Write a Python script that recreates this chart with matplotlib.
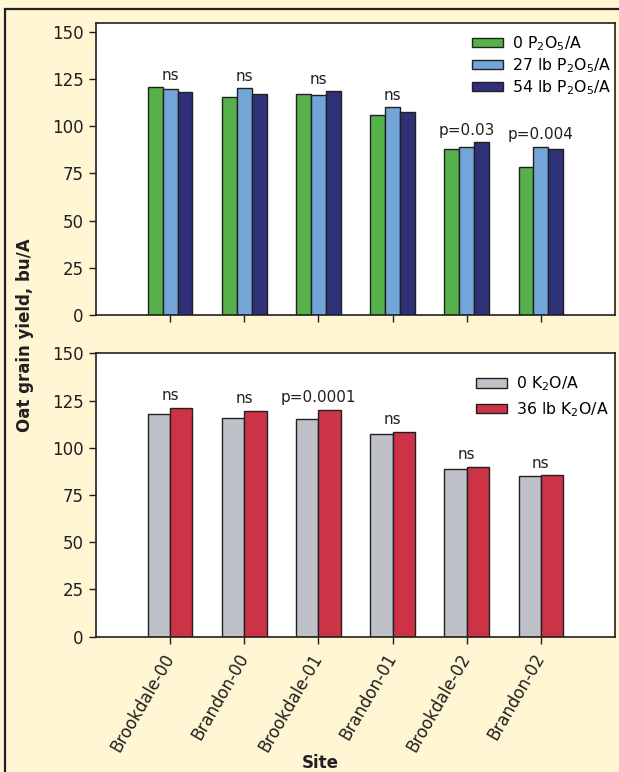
import matplotlib
matplotlib.use("Agg")
import matplotlib.pyplot as plt
from matplotlib.patches import Rectangle

# ---------- datos ----------
sitios = ["Brookdale-00", "Brandon-00", "Brookdale-01", "Brandon-01", "Brookdale-02", "Brandon-02"]

p_0 = [120.5, 115.5, 117.0, 106.0, 88.0, 78.5]
p_27 = [119.5, 120.0, 116.5, 110.0, 89.0, 89.0]
p_54 = [118.0, 117.0, 118.5, 107.5, 91.5, 88.0]
p_sig = ["ns", "ns", "ns", "ns", "p=0.03", "p=0.004"]

k_0 = [118.0, 116.0, 115.0, 107.5, 89.0, 85.0]
k_36 = [121.0, 119.5, 120.0, 108.5, 90.0, 85.5]
k_sig = ["ns", "ns", "p=0.0001", "ns", "ns", "ns"]

# ---------- estilo ----------
FONDO = "#fff6d4"
OSCURO = "#231f20"
VERDE, CELESTE, AZUL = "#57b14b", "#72a5d8", "#2f3178"
GRIS, ROJO = "#bec2c8", "#cc3346"

plt.rcParams["font.family"] = ["DejaVu Sans"]
plt.rcParams["mathtext.default"] = "regular"

fig = plt.figure(figsize=(6.19, 7.72), dpi=100)
fig.patch.set_facecolor(FONDO)

# borde exterior de la figura (solo izquierda y arriba quedan dentro)
fig.patches.append(Rectangle((5 / 619, -0.02), 1.05, 1 - 9 / 772 + 0.02,
                             transform=fig.transFigure, fill=False,
                             edgecolor=OSCURO, lw=1.6))

ax1 = fig.add_axes([96 / 619, 1 - 315 / 772, 519 / 619, 292 / 772])
ax2 = fig.add_axes([96 / 619, 1 - 636.7 / 772, 519 / 619, 283.4 / 772])

x = list(range(len(sitios)))


def preparar(ax, ytop):
    ax.set_facecolor("white")
    ax.set_xlim(-1, 6)
    ax.set_ylim(0, ytop)
    ax.set_yticks([0, 25, 50, 75, 100, 125, 150])
    ax.set_xticks(x)
    for s in ax.spines.values():
        s.set_color(OSCURO)
        s.set_linewidth(1.2)
    ax.tick_params(direction="out", length=5, width=1, color=OSCURO,
                   labelsize=12, labelcolor=OSCURO, pad=4)


def anotar(ax, tops, textos):
    for i in x:
        ax.annotate(textos[i], xy=(i, tops[i]), xytext=(0, 5.5),
                    textcoords="offset points", ha="center", va="baseline",
                    fontsize=11, color=OSCURO)


# ---------- P ----------
w = 0.2
preparar(ax1, 154.6)
ax1.bar([i - w for i in x], p_0, w, color=VERDE, edgecolor=OSCURO, lw=1,
        label="0 P$_2$O$_5$/A")
ax1.bar(x, p_27, w, color=CELESTE, edgecolor=OSCURO, lw=1,
        label="27 lb P$_2$O$_5$/A")
ax1.bar([i + w for i in x], p_54, w, color=AZUL, edgecolor=OSCURO, lw=1,
        label="54 lb P$_2$O$_5$/A")
ax1.set_xticklabels([])
anotar(ax1, [max(a, b, c) for a, b, c in zip(p_0, p_27, p_54)], p_sig)
ax1.legend(loc="upper left", bbox_to_anchor=(0.724, 0.962), frameon=False,
           fontsize=11.3, handlelength=2.0, handleheight=0.5,
           handletextpad=0.55, labelspacing=0.22, borderpad=0, borderaxespad=0)

# ---------- K ----------
w2 = 0.3
preparar(ax2, 150)
ax2.bar([i - w2 / 2 for i in x], k_0, w2, color=GRIS, edgecolor=OSCURO, lw=1,
        label="0 K$_2$O/A")
ax2.bar([i + w2 / 2 for i in x], k_36, w2, color=ROJO, edgecolor=OSCURO, lw=1,
        label="36 lb K$_2$O/A")
ax2.set_xticklabels(sitios, rotation=60, ha="right", va="center",
                    rotation_mode="anchor", fontsize=12)
ax2.tick_params(axis="x", pad=8)
anotar(ax2, [max(a, b) for a, b in zip(k_0, k_36)], k_sig)
ax2.legend(loc="upper left", bbox_to_anchor=(0.732, 0.926), frameon=False,
           fontsize=11.3, handlelength=2.0, handleheight=0.6,
           handletextpad=0.55, labelspacing=0.45, borderpad=0, borderaxespad=0)

fig.text(25 / 619, 1 - 335 / 772, "Oat grain yield, bu/A", rotation=90,
         ha="center", va="center", fontsize=12, fontweight="bold", color=OSCURO)
fig.text(320 / 619, 1 - 763 / 772, "Site", ha="center", va="center",
         fontsize=12, fontweight="bold", color=OSCURO)

fig.savefig("out.png", dpi=100, facecolor=FONDO)
